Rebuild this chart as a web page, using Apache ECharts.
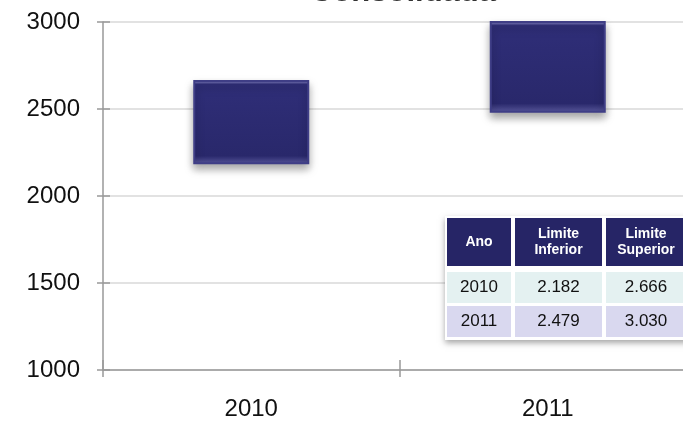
<!DOCTYPE html>
<html lang="pt">
<head>
<meta charset="UTF-8">
<title>Consolidada</title>
<script src="https://cdn.jsdelivr.net/npm/echarts@6/dist/echarts.min.js"></script>
<style>
  html, body { margin: 0; padding: 0; background: #fff; }
  #chart { width: 683px; height: 422px; }
</style>
</head>
<body>
<div id="chart"></div>
<script>
// dados
var titulo = 'Consolidada';
var anos = ['2010', '2011'];
var limiteInferior = [2182, 2479];
var limiteSuperior = [2666, 3030];
var yTicks = [1000, 1500, 2000, 2500, 3000];
var tabelaCab = ['Ano', 'Limite\nInferior', 'Limite\nSuperior'];
var tabelaTxt = [['2010', '2.182', '2.666'], ['2011', '2.479', '3.030']];

var myChart = echarts.init(document.getElementById('chart'));

// faixa = superior - inferior (empilhada sobre base transparente)
var faixa = limiteSuperior.map(function (v, i) { return v - limiteInferior[i]; });

// título (cortado no topo, como no original)
var graficos = [];
graficos.push({ type: 'text', z: 90, x: 403, y: 8,
  style: { text: titulo, fill: '#333', font: 'bold 31px "Liberation Sans", Arial', align: 'center', verticalAlign: 'bottom' } });

// tabela no canto inferior direito
var colX = [447, 515, 606];
var colW = [64, 87, 80];
var rowY = [272, 306];
var rowH = 31;
var rowCor = ['#e4f1f1', '#d9d8ef'];
graficos.push({ type: 'rect', z: 100, shape: { x: 445, y: 216, width: 245, height: 124 },
  style: { fill: '#fff', shadowBlur: 6, shadowOffsetY: 3, shadowColor: 'rgba(0,0,0,0.35)' } });
tabelaCab.forEach(function (t, c) {
  graficos.push({ type: 'rect', z: 101, shape: { x: colX[c], y: 218, width: colW[c], height: 48 }, style: { fill: '#262566' } });
  graficos.push({ type: 'text', z: 102, x: colX[c] + colW[c] / 2, y: 242,
    style: { text: t, fill: '#fff', font: 'bold 14px "Liberation Sans", Arial', align: 'center', verticalAlign: 'middle', lineHeight: 16 } });
});
tabelaTxt.forEach(function (linha, r) {
  linha.forEach(function (t, c) {
    graficos.push({ type: 'rect', z: 101, shape: { x: colX[c], y: rowY[r], width: colW[c], height: rowH }, style: { fill: rowCor[r] } });
    graficos.push({ type: 'text', z: 102, x: colX[c] + colW[c] / 2, y: rowY[r] + rowH / 2,
      style: { text: t, fill: '#111', font: '17px "Liberation Sans", Arial', align: 'center', verticalAlign: 'middle' } });
  });
});

var eixoCor = '#999';

var option = {
  animation: false,
  grid: { left: 103, right: -13, top: 22, bottom: 52, containLabel: false, outerBoundsMode: 'none' },
  xAxis: [{
    type: 'category',
    data: anos,
    axisLine: { lineStyle: { color: eixoCor, width: 1.5 } },
    axisTick: { show: true, length: 7, lineStyle: { color: eixoCor, width: 1.5 } },
    axisLabel: { color: '#111', fontSize: 24, fontFamily: 'Liberation Sans', margin: 27 }
  }, {
    // marcas para dentro (cruzando o eixo)
    type: 'category',
    data: anos,
    position: 'bottom',
    axisLine: { show: false },
    axisTick: { show: true, inside: true, length: 10, lineStyle: { color: eixoCor, width: 1.5 } },
    axisLabel: { show: false }
  }],
  yAxis: [{
    type: 'value',
    min: yTicks[0],
    max: yTicks[yTicks.length - 1],
    interval: 500,
    axisLine: { show: true, lineStyle: { color: eixoCor, width: 1.5 } },
    axisTick: { show: true, length: 6, lineStyle: { color: eixoCor, width: 1.5 } },
    axisLabel: { color: '#111', fontSize: 24, fontFamily: 'Liberation Sans', margin: 23, formatter: function (v) { return String(v); } },
    splitLine: { lineStyle: { color: '#d9d9d9', width: 1.5 } }
  }, {
    type: 'value',
    min: yTicks[0],
    max: yTicks[yTicks.length - 1],
    interval: 500,
    position: 'left',
    axisLine: { show: false },
    axisTick: { show: true, inside: true, length: 7, lineStyle: { color: eixoCor, width: 1.5 } },
    axisLabel: { show: false },
    splitLine: { show: false }
  }],
  series: [{
    type: 'bar',
    stack: 'limites',
    data: limiteInferior,
    barWidth: 116,
    itemStyle: { color: 'transparent' },
    silent: true
  }, {
    type: 'bar',
    stack: 'limites',
    data: faixa,
    barWidth: 116,
    itemStyle: {
      color: new echarts.graphic.LinearGradient(0, 0, 0, 1, [
        { offset: 0, color: '#9a99d6' },
        { offset: 0.05, color: '#2f2e78' },
        { offset: 0.9, color: '#29286b' },
        { offset: 1, color: '#5a599e' }
      ]),
      borderColor: '#3f3e86',
      borderWidth: 2,
      shadowBlur: 8,
      shadowOffsetY: 5,
      shadowColor: 'rgba(0,0,0,0.35)'
    }
  }],
  graphic: graficos
};

myChart.setOption(option);
</script>
</body>
</html>
